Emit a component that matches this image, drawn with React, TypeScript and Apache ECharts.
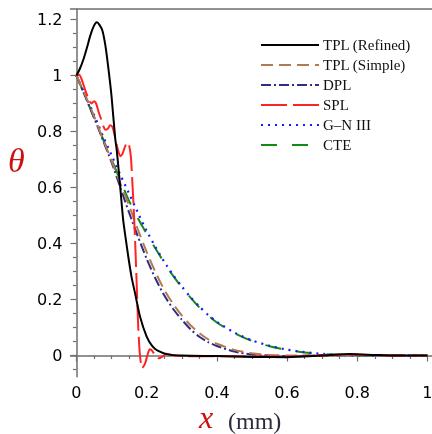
import React, { useEffect, useRef } from "react";
import * as echarts from "echarts";

const seriesNames = ["TPL (Refined)", "TPL (Simple)", "DPL", "SPL", "G–N III", "CTE"];

const refinedX = [0, 0.01, 0.02, 0.03, 0.04, 0.05, 0.058, 0.066, 0.074, 0.082, 0.09, 0.1, 0.11, 0.115, 0.12, 0.125, 0.133, 0.14, 0.148, 0.157, 0.167, 0.181, 0.2, 0.215, 0.23, 0.26, 0.3, 0.4, 0.5, 0.6, 0.7, 0.78, 0.85, 0.9, 1.0];
const refinedY = [1.0, 1.025, 1.058, 1.1, 1.145, 1.178, 1.19, 1.18, 1.16, 1.11, 1.035, 0.925, 0.78, 0.73, 0.665, 0.597, 0.485, 0.42, 0.35, 0.28, 0.222, 0.139, 0.067, 0.035, 0.018, 0.004, 0.0, -0.002, -0.005, -0.006, 0.0, 0.005, 0.002, 0.0, 0.0];

const splX = [0, 0.008, 0.015, 0.025, 0.035, 0.043, 0.05, 0.056, 0.063, 0.07, 0.077, 0.082, 0.089, 0.096, 0.103, 0.11, 0.118, 0.125, 0.131, 0.138, 0.145, 0.15, 0.155, 0.16, 0.164, 0.168, 0.172, 0.176, 0.181, 0.187, 0.195, 0.202, 0.209, 0.217, 0.225, 0.235, 0.245, 0.257, 0.27, 0.3, 0.4, 0.5, 0.6, 0.7, 0.8, 0.9, 1.0];
const splY = [1.0, 1.003, 0.985, 0.948, 0.915, 0.9, 0.908, 0.9, 0.87, 0.845, 0.818, 0.806, 0.81, 0.822, 0.815, 0.78, 0.735, 0.712, 0.72, 0.745, 0.761, 0.75, 0.71, 0.6, 0.5, 0.38, 0.24, 0.1, 0.0, -0.045, -0.03, 0.0, 0.022, 0.015, -0.003, -0.01, -0.004, 0.006, 0.002, -0.002, -0.003, -0.003, -0.004, 0.002, 0.003, 0.0, 0.0];

const plX = [0, 0.025, 0.05, 0.075, 0.1, 0.125, 0.15, 0.175, 0.2, 0.225, 0.25, 0.275, 0.3, 0.325, 0.35, 0.375, 0.4, 0.45, 0.5, 0.55, 0.6, 0.7, 0.8, 0.9, 1.0];
const dplY = [1, 0.925, 0.85, 0.77, 0.69, 0.6, 0.51, 0.425, 0.345, 0.275, 0.215, 0.167, 0.128, 0.094, 0.067, 0.048, 0.034, 0.014, 0.004, 0.0, -0.002, 0.0, 0.002, 0.0, 0.0];
const simpleY = [1, 0.93, 0.855, 0.775, 0.695, 0.615, 0.535, 0.45, 0.37, 0.298, 0.235, 0.185, 0.143, 0.108, 0.08, 0.058, 0.042, 0.02, 0.008, 0.002, 0.0, 0.0, 0.001, 0.0, 0.0];

const gnX = [0, 0.025, 0.05, 0.075, 0.1, 0.125, 0.15, 0.175, 0.2, 0.225, 0.25, 0.275, 0.3, 0.325, 0.35, 0.375, 0.4, 0.45, 0.5, 0.55, 0.6, 0.65, 0.7, 0.75, 0.8, 0.9, 1.0];
const gnY = [1, 0.93, 0.86, 0.785, 0.715, 0.645, 0.578, 0.51, 0.445, 0.388, 0.335, 0.288, 0.247, 0.208, 0.175, 0.145, 0.12, 0.082, 0.054, 0.035, 0.021, 0.012, 0.006, 0.002, 0.0, 0.0, 0.0];
const cteY = [1, 0.925, 0.85, 0.775, 0.7, 0.625, 0.552, 0.49, 0.435, 0.382, 0.332, 0.285, 0.244, 0.207, 0.172, 0.143, 0.118, 0.08, 0.052, 0.033, 0.02, 0.011, 0.005, 0.002, 0.0, 0.0, 0.0];

const xMajor = [0, 0.2, 0.4, 0.6, 0.8, 1];
const xMinor = [0.05, 0.1, 0.15, 0.25, 0.3, 0.35, 0.45, 0.5, 0.55, 0.65, 0.7, 0.75, 0.85, 0.9, 0.95, 1.05];
const yMajor = [0, 0.2, 0.4, 0.6, 0.8, 1, 1.2];
const yMinor = [-0.05, 0.05, 0.1, 0.15, 0.25, 0.3, 0.35, 0.45, 0.5, 0.55, 0.65, 0.7, 0.75, 0.85, 0.9, 0.95, 1.05, 1.1, 1.15];

const pairs = (xs: number[], ys: number[]) => xs.map((x, i) => [x, ys[i]]);

export default function App() {
  const ref = useRef<HTMLDivElement>(null);
  useEffect(() => {
    if (!ref.current) return;
    const chart = echarts.init(ref.current, null, { renderer: "svg" });
    const X_MIN = -0.017, X_MAX = 1.05, Y_MIN = -0.0757, Y_MAX = 1.2375;
    const axisColor = "#6e6e6e";
    const labelStyle = { fontFamily: "DejaVu Sans", fontSize: 16, color: "#000" };
    const mk = (name: string, data: number[][], color: string, type: any, width = 2, z = 2) => ({
      name, type: "line", data, symbol: "none", smooth: 0.25, z,
      lineStyle: { color, width, type },
      itemStyle: { color },
    });
    chart.setOption({
      animation: false,
      grid: { left: 70.5, top: 9, width: 374.5, height: 367.7, containLabel: false, outerBoundsMode: "none" },
      legend: {
        orient: "vertical", left: 260, top: 37.5, itemWidth: 58, itemHeight: 14, itemGap: 5, padding: 0,
        data: seriesNames,
        itemStyle: { opacity: 0 },
        textStyle: { fontFamily: "Liberation Serif", fontSize: 15, color: "#111", padding: [0, 0, 0, -1] },
      },
      xAxis: [
        {
          type: "value", min: X_MIN, max: X_MAX, position: "bottom",
          axisLine: { show: true, lineStyle: { color: axisColor, width: 1.5 } },
          axisTick: { show: true, customValues: xMajor, length: 6, lineStyle: { color: axisColor, width: 1.2 } },
          axisLabel: { show: true, customValues: xMajor, margin: 8, ...labelStyle },
          splitLine: { show: false },
        },
        {
          type: "value", min: X_MIN, max: X_MAX, position: "bottom",
          axisLine: { show: false },
          axisTick: { show: true, customValues: xMinor, length: 3.5, lineStyle: { color: axisColor, width: 1.2 } },
          axisLabel: { show: false },
          splitLine: { show: false },
        },
        {
          type: "value", min: X_MIN, max: X_MAX, position: "top",
          axisLine: { show: true, lineStyle: { color: axisColor, width: 1.5 } },
          axisTick: { show: false }, axisLabel: { show: false }, splitLine: { show: false },
        },
      ],
      yAxis: [
        {
          type: "value", min: Y_MIN, max: Y_MAX, position: "left",
          axisLine: { show: true, lineStyle: { color: axisColor, width: 1.5 } },
          axisTick: { show: true, customValues: yMajor, length: 6, lineStyle: { color: axisColor, width: 1.2 } },
          axisLabel: { show: true, customValues: yMajor, margin: 8, ...labelStyle },
          splitLine: { show: false },
        },
        {
          type: "value", min: Y_MIN, max: Y_MAX, position: "left",
          axisLine: { show: false },
          axisTick: { show: true, customValues: yMinor, length: 3.5, lineStyle: { color: axisColor, width: 1.2 } },
          axisLabel: { show: false },
          splitLine: { show: false },
        },
      ],
      graphic: [
        { type: "text", left: 8, top: 143, style: { text: "θ", font: "italic 34px 'Liberation Serif'", fill: "#cc1111" } },
        { type: "text", x: 199, y: 433, style: { text: "x", font: "italic 32px 'Liberation Serif'", verticalAlign: "bottom", fill: "#cc1111" } },
        { type: "text", x: 228, y: 433, style: { text: "(mm)", font: "24px 'Liberation Serif'", verticalAlign: "bottom", fill: "#2b2b3b" } },
      ],
      series: [
        mk("CTE", pairs(gnX, cteY), "#138a13", [16, 15], 2, 2),
        mk("G–N III", pairs(gnX, gnY), "#1a1aff", [2, 5], 2.2, 3),
        mk("DPL", pairs(plX, dplY), "#2e2e86", [10, 3, 2, 3], 2, 4),
        mk("TPL (Simple)", pairs(plX, simpleY), "#b27a52", [12, 6], 2, 5),
        mk("SPL", pairs(splX, splY), "#ff2424", [26, 6], 2, 6),
        mk("TPL (Refined)", pairs(refinedX, refinedY), "#000000", "solid", 2, 7),
      ],
    });
    return () => chart.dispose();
  }, []);
  return <div ref={ref} style={{ position: "fixed", left: 0, top: 0, width: 432, height: 434 }} />;
}
